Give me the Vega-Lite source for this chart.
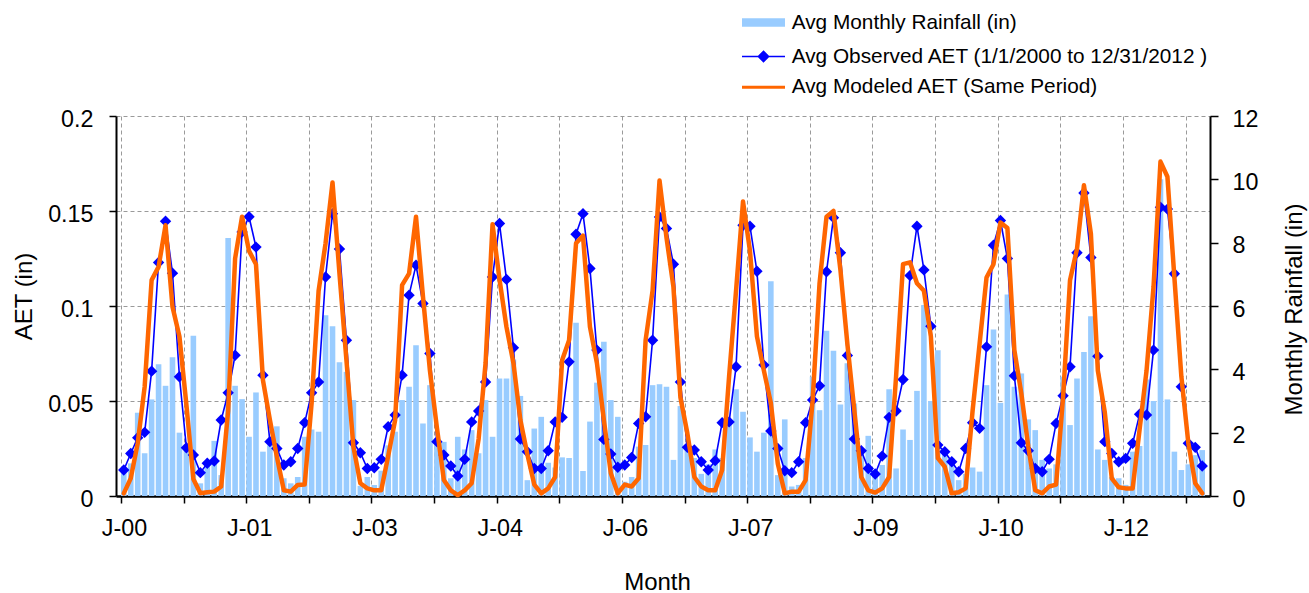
{
  "$schema": "https://vega.github.io/schema/vega-lite/v6.json",
  "width": 1094,
  "height": 380,
  "autosize": {"type": "none"},
  "padding": {"left": 116, "top": 116, "right": 99, "bottom": 97},
  "background": "white",
  "config": {
    "font": "Liberation Sans",
    "view": {"stroke": null},
    "axis": {
      "labelFont": "Liberation Sans",
      "labelFontSize": 23.3,
      "labelColor": "#000000",
      "titleFont": "Liberation Sans",
      "titleFontSize": 24,
      "titleFontWeight": "normal",
      "titleColor": "#000000",
      "domainColor": "#000000",
      "domainWidth": 2,
      "tickColor": "#000000",
      "tickWidth": 1.5,
      "tickSize": 7,
      "gridColor": "#9a9a9a",
      "gridDash": [4, 3],
      "gridWidth": 1
    }
  },
  "data": {
    "values": [
      {"month": 0, "rain": 0.85, "obs": 0.0137, "mod": 0.0014},
      {"month": 1, "rain": 1.03, "obs": 0.0224, "mod": 0.0093},
      {"month": 2, "rain": 2.63, "obs": 0.0307, "mod": 0.0277},
      {"month": 3, "rain": 1.35, "obs": 0.0335, "mod": 0.0575},
      {"month": 4, "rain": 3.05, "obs": 0.0657, "mod": 0.1136},
      {"month": 5, "rain": 4.16, "obs": 0.1229, "mod": 0.1206},
      {"month": 6, "rain": 3.48, "obs": 0.1446, "mod": 0.1425},
      {"month": 7, "rain": 4.38, "obs": 0.1173, "mod": 0.0996},
      {"month": 8, "rain": 2.0, "obs": 0.0628, "mod": 0.084},
      {"month": 9, "rain": 1.56, "obs": 0.0254, "mod": 0.048},
      {"month": 10, "rain": 5.06, "obs": 0.0216, "mod": 0.009},
      {"month": 11, "rain": 0.4, "obs": 0.0123, "mod": 0.0014},
      {"month": 12, "rain": 1.0, "obs": 0.0172, "mod": 0.002},
      {"month": 13, "rain": 1.74, "obs": 0.0184, "mod": 0.0023},
      {"month": 14, "rain": 0.66, "obs": 0.040, "mod": 0.005},
      {"month": 15, "rain": 8.15, "obs": 0.0543, "mod": 0.045},
      {"month": 16, "rain": 3.48, "obs": 0.0741, "mod": 0.125},
      {"month": 17, "rain": 3.06, "obs": 0.139, "mod": 0.147},
      {"month": 18, "rain": 1.87, "obs": 0.147, "mod": 0.129},
      {"month": 19, "rain": 3.27, "obs": 0.131, "mod": 0.122},
      {"month": 20, "rain": 1.40, "obs": 0.0636, "mod": 0.061},
      {"month": 21, "rain": 1.6, "obs": 0.0286, "mod": 0.040},
      {"month": 22, "rain": 2.2, "obs": 0.025, "mod": 0.0207},
      {"month": 23, "rain": 0.56, "obs": 0.0163, "mod": 0.003},
      {"month": 24, "rain": 0.4, "obs": 0.018, "mod": 0.0023},
      {"month": 25, "rain": 0.6, "obs": 0.025, "mod": 0.0058},
      {"month": 26, "rain": 1.87, "obs": 0.0386, "mod": 0.006},
      {"month": 27, "rain": 2.1, "obs": 0.0543, "mod": 0.049},
      {"month": 28, "rain": 2.03, "obs": 0.060, "mod": 0.108},
      {"month": 29, "rain": 5.71, "obs": 0.1153, "mod": 0.133},
      {"month": 30, "rain": 5.36, "obs": 0.1486, "mod": 0.165},
      {"month": 31, "rain": 4.22, "obs": 0.130, "mod": 0.117},
      {"month": 32, "rain": 3.92, "obs": 0.082, "mod": 0.0715},
      {"month": 33, "rain": 3.03, "obs": 0.028, "mod": 0.026},
      {"month": 34, "rain": 0.32, "obs": 0.0228, "mod": 0.0067},
      {"month": 35, "rain": 0.6, "obs": 0.0145, "mod": 0.004},
      {"month": 36, "rain": 0.35, "obs": 0.0149, "mod": 0.003},
      {"month": 37, "rain": 0.8, "obs": 0.0193, "mod": 0.003},
      {"month": 38, "rain": 1.6, "obs": 0.0365, "mod": 0.021},
      {"month": 39, "rain": 2.03, "obs": 0.0426, "mod": 0.040},
      {"month": 40, "rain": 3.03, "obs": 0.0636, "mod": 0.111},
      {"month": 41, "rain": 3.45, "obs": 0.1057, "mod": 0.117},
      {"month": 42, "rain": 4.76, "obs": 0.1215, "mod": 0.147},
      {"month": 43, "rain": 2.29, "obs": 0.1013, "mod": 0.105},
      {"month": 44, "rain": 3.5, "obs": 0.075, "mod": 0.066},
      {"month": 45, "rain": 1.66, "obs": 0.0286, "mod": 0.036},
      {"month": 46, "rain": 1.71, "obs": 0.0216, "mod": 0.0084},
      {"month": 47, "rain": 0.56, "obs": 0.0158, "mod": 0.003},
      {"month": 48, "rain": 1.87, "obs": 0.0105, "mod": 0.0005},
      {"month": 49, "rain": 1.47, "obs": 0.0193, "mod": 0.003},
      {"month": 50, "rain": 2.08, "obs": 0.039, "mod": 0.0067},
      {"month": 51, "rain": 1.35, "obs": 0.0447, "mod": 0.03},
      {"month": 52, "rain": 3.03, "obs": 0.060, "mod": 0.07},
      {"month": 53, "rain": 1.87, "obs": 0.1153, "mod": 0.143},
      {"month": 54, "rain": 3.71, "obs": 0.1434, "mod": 0.114},
      {"month": 55, "rain": 3.71, "obs": 0.114, "mod": 0.089},
      {"month": 56, "rain": 4.31, "obs": 0.078, "mod": 0.07},
      {"month": 57, "rain": 3.16, "obs": 0.030, "mod": 0.04},
      {"month": 58, "rain": 0.5, "obs": 0.0233, "mod": 0.022},
      {"month": 59, "rain": 2.13, "obs": 0.0145, "mod": 0.006},
      {"month": 60, "rain": 2.5, "obs": 0.0145, "mod": 0.0014},
      {"month": 61, "rain": 1.05, "obs": 0.0238, "mod": 0.004},
      {"month": 62, "rain": 0.9, "obs": 0.039, "mod": 0.01},
      {"month": 63, "rain": 1.22, "obs": 0.0414, "mod": 0.0715},
      {"month": 64, "rain": 1.2, "obs": 0.0706, "mod": 0.082},
      {"month": 65, "rain": 5.47, "obs": 0.1378, "mod": 0.133},
      {"month": 66, "rain": 0.79, "obs": 0.1486, "mod": 0.137},
      {"month": 67, "rain": 2.35, "obs": 0.1197, "mod": 0.089},
      {"month": 68, "rain": 3.58, "obs": 0.0768, "mod": 0.07},
      {"month": 69, "rain": 4.87, "obs": 0.0298, "mod": 0.04},
      {"month": 70, "rain": 3.03, "obs": 0.0221, "mod": 0.012},
      {"month": 71, "rain": 2.5, "obs": 0.0151, "mod": 0.0014},
      {"month": 72, "rain": 0.45, "obs": 0.0163, "mod": 0.006},
      {"month": 73, "rain": 0.6, "obs": 0.0203, "mod": 0.005},
      {"month": 74, "rain": 1.56, "obs": 0.0382, "mod": 0.0093},
      {"month": 75, "rain": 1.61, "obs": 0.0417, "mod": 0.082},
      {"month": 76, "rain": 3.5, "obs": 0.082, "mod": 0.108},
      {"month": 77, "rain": 3.53, "obs": 0.1469, "mod": 0.166},
      {"month": 78, "rain": 3.45, "obs": 0.1408, "mod": 0.136},
      {"month": 79, "rain": 1.14, "obs": 0.122, "mod": 0.11},
      {"month": 80, "rain": 2.84, "obs": 0.060, "mod": 0.052},
      {"month": 81, "rain": 1.5, "obs": 0.0256, "mod": 0.033},
      {"month": 82, "rain": 1.2, "obs": 0.0242, "mod": 0.01},
      {"month": 83, "rain": 0.7, "obs": 0.018, "mod": 0.005},
      {"month": 84, "rain": 1.0, "obs": 0.0137, "mod": 0.003},
      {"month": 85, "rain": 1.47, "obs": 0.0186, "mod": 0.003},
      {"month": 86, "rain": 1.2, "obs": 0.0386, "mod": 0.0137},
      {"month": 87, "rain": 2.35, "obs": 0.039, "mod": 0.063},
      {"month": 88, "rain": 3.37, "obs": 0.068, "mod": 0.108},
      {"month": 89, "rain": 2.66, "obs": 0.1425, "mod": 0.155},
      {"month": 90, "rain": 1.85, "obs": 0.142, "mod": 0.129},
      {"month": 91, "rain": 1.4, "obs": 0.1183, "mod": 0.084},
      {"month": 92, "rain": 2.0, "obs": 0.0689, "mod": 0.066},
      {"month": 93, "rain": 6.78, "obs": 0.0342, "mod": 0.049},
      {"month": 94, "rain": 0.66, "obs": 0.025, "mod": 0.017},
      {"month": 95, "rain": 2.42, "obs": 0.0133, "mod": 0.0014},
      {"month": 96, "rain": 0.3, "obs": 0.0123, "mod": 0.0023},
      {"month": 97, "rain": 0.35, "obs": 0.018, "mod": 0.0023},
      {"month": 98, "rain": 1.2, "obs": 0.0386, "mod": 0.0084},
      {"month": 99, "rain": 3.77, "obs": 0.0505, "mod": 0.05},
      {"month": 100, "rain": 2.71, "obs": 0.058, "mod": 0.112},
      {"month": 101, "rain": 5.22, "obs": 0.118, "mod": 0.147},
      {"month": 102, "rain": 4.59, "obs": 0.1465, "mod": 0.15},
      {"month": 103, "rain": 2.89, "obs": 0.128, "mod": 0.119},
      {"month": 104, "rain": 4.19, "obs": 0.074, "mod": 0.080},
      {"month": 105, "rain": 2.92, "obs": 0.030, "mod": 0.045},
      {"month": 106, "rain": 1.35, "obs": 0.0238, "mod": 0.01},
      {"month": 107, "rain": 1.9, "obs": 0.0145, "mod": 0.003},
      {"month": 108, "rain": 0.82, "obs": 0.0116, "mod": 0.0018},
      {"month": 109, "rain": 0.98, "obs": 0.021, "mod": 0.004},
      {"month": 110, "rain": 3.37, "obs": 0.0414, "mod": 0.01},
      {"month": 111, "rain": 0.87, "obs": 0.0447, "mod": 0.063},
      {"month": 112, "rain": 2.1, "obs": 0.0613, "mod": 0.122},
      {"month": 113, "rain": 1.77, "obs": 0.116, "mod": 0.123},
      {"month": 114, "rain": 3.32, "obs": 0.142, "mod": 0.112},
      {"month": 115, "rain": 6.03, "obs": 0.119, "mod": 0.108},
      {"month": 116, "rain": 3.0, "obs": 0.0894, "mod": 0.084},
      {"month": 117, "rain": 4.6, "obs": 0.0268, "mod": 0.02},
      {"month": 118, "rain": 1.4, "obs": 0.0233, "mod": 0.0154},
      {"month": 119, "rain": 1.19, "obs": 0.018, "mod": 0.0014},
      {"month": 120, "rain": 0.5, "obs": 0.0128, "mod": 0.002},
      {"month": 121, "rain": 0.7, "obs": 0.025, "mod": 0.004},
      {"month": 122, "rain": 0.9, "obs": 0.0386, "mod": 0.045},
      {"month": 123, "rain": 0.77, "obs": 0.0356, "mod": 0.080},
      {"month": 124, "rain": 3.5, "obs": 0.0785, "mod": 0.115},
      {"month": 125, "rain": 5.26, "obs": 0.132, "mod": 0.122},
      {"month": 126, "rain": 2.94, "obs": 0.145, "mod": 0.144},
      {"month": 127, "rain": 6.36, "obs": 0.125, "mod": 0.141},
      {"month": 128, "rain": 3.45, "obs": 0.0633, "mod": 0.0768},
      {"month": 129, "rain": 3.87, "obs": 0.028, "mod": 0.054},
      {"month": 130, "rain": 2.42, "obs": 0.0238, "mod": 0.026},
      {"month": 131, "rain": 2.08, "obs": 0.0145, "mod": 0.003},
      {"month": 132, "rain": 1.14, "obs": 0.0128, "mod": 0.0014},
      {"month": 133, "rain": 0.87, "obs": 0.0193, "mod": 0.005},
      {"month": 134, "rain": 1.0, "obs": 0.0382, "mod": 0.006},
      {"month": 135, "rain": 3.77, "obs": 0.0528, "mod": 0.052},
      {"month": 136, "rain": 2.24, "obs": 0.068, "mod": 0.1136},
      {"month": 137, "rain": 3.71, "obs": 0.128, "mod": 0.130},
      {"month": 138, "rain": 4.55, "obs": 0.1595, "mod": 0.1635},
      {"month": 139, "rain": 5.68, "obs": 0.1255, "mod": 0.138},
      {"month": 140, "rain": 1.47, "obs": 0.0736, "mod": 0.066},
      {"month": 141, "rain": 1.14, "obs": 0.0286, "mod": 0.044},
      {"month": 142, "rain": 0.6, "obs": 0.0224, "mod": 0.0093},
      {"month": 143, "rain": 0.56, "obs": 0.018, "mod": 0.0046},
      {"month": 144, "rain": 0.35, "obs": 0.0198, "mod": 0.004},
      {"month": 145, "rain": 1.4, "obs": 0.0277, "mod": 0.004},
      {"month": 146, "rain": 1.58, "obs": 0.043, "mod": 0.035},
      {"month": 147, "rain": 3.68, "obs": 0.0426, "mod": 0.066},
      {"month": 148, "rain": 3.0, "obs": 0.0768, "mod": 0.11},
      {"month": 149, "rain": 10.0, "obs": 0.152, "mod": 0.176},
      {"month": 150, "rain": 3.05, "obs": 0.151, "mod": 0.168},
      {"month": 151, "rain": 1.4, "obs": 0.117, "mod": 0.115},
      {"month": 152, "rain": 0.82, "obs": 0.0575, "mod": 0.063},
      {"month": 153, "rain": 1.0, "obs": 0.0277, "mod": 0.028},
      {"month": 154, "rain": 1.29, "obs": 0.0256, "mod": 0.0067},
      {"month": 155, "rain": 1.45, "obs": 0.0158, "mod": 0.0014}
    ]
  },
  "encoding": {
    "x": {
      "field": "month",
      "type": "quantitative",
      "scale": {"domain": [-0.4, 155.4], "nice": false, "zero": false},
      "axis": {
        "values": [-0.4, 8.6, 17.6, 26.6, 35.6, 44.6, 53.6, 62.6, 71.6, 80.6, 89.6, 98.6, 107.6, 116.6, 125.6, 134.6, 143.6, 152.6],
        "labelExpr": "round(datum.value) % 18 == 0 ? 'J-' + (floor(round(datum.value) / 12) < 10 ? '0' : '') + floor(round(datum.value) / 12) : ''",
        "labelFlush": false,
        "labelOverlap": false,
        "labelPadding": 14.6,
        "labelOffset": 3,
        "grid": true,
        "title": "Month",
        "titleX": 541,
        "titleY": 86,
        "titleBaseline": "middle",
        "titleAlign": "center",
        "domainWidth": 2.5
      }
    }
  },
  "layer": [
    {
      "mark": {"type": "bar", "width": 5.6},
      "encoding": {
        "y": {
          "field": "rain",
          "type": "quantitative",
          "scale": {"domain": [0, 12], "nice": false},
          "axis": {
            "orient": "right",
            "values": [0, 2, 4, 6, 8, 10, 12],
            "grid": false,
            "ticks": true,
            "tickSize": 8,
            "labelAlign": "left",
            "labelPadding": 14,
            "labelOffset": 3,
            "encode": {"labels": {"update": {"align": {"value": "left"}}}},
            "title": "Monthly Rainfall (in)",
            "titleAngle": -90,
            "titleX": 84,
            "titleY": 193,
            "titleBaseline": "middle",
            "titleAlign": "center"
          }
        },
        "fill": {
          "datum": "Avg Monthly Rainfall (in)",
          "type": "nominal",
          "scale": {"range": ["#99ccff"]},
          "legend": {
            "title": null,
            "orient": "none",
            "legendX": 626,
            "legendY": -115,
            "padding": 0,
            "symbolType": "M-1,-0.2H1V0.2H-1Z",
            "symbolSize": 1849,
            "symbolStrokeWidth": 0,
            "labelFont": "Liberation Sans",
            "labelFontSize": 20.8,
            "labelColor": "#000000",
            "labelOffset": 6.7,
            "labelLimit": 600
          }
        }
      }
    },
    {
      "encoding": {
        "y": {
          "type": "quantitative",
          "scale": {"domain": [0, 0.2], "nice": false},
          "axis": {
            "orient": "left",
            "values": [0, 0.05, 0.1, 0.15, 0.2],
            "format": "~g",
            "grid": true,
            "labelPadding": 16,
            "labelOffset": 3,
            "title": "AET (in)",
            "titleAngle": -90,
            "titleX": -92,
            "titleY": 180,
            "titleBaseline": "middle",
            "titleAlign": "center"
          }
        }
      },
      "layer": [
        {
          "mark": {"type": "line", "color": "#0000ff", "strokeWidth": 1.6},
          "encoding": {
            "y": {"field": "obs", "type": "quantitative", "title": "AET (in)"}
          }
        },
        {
          "mark": {"type": "point", "shape": "diamond", "filled": true, "size": 130, "opacity": 1},
          "encoding": {
            "y": {"field": "obs", "type": "quantitative", "title": "AET (in)"},
            "color": {
              "datum": "Avg Observed AET (1/1/2000 to 12/31/2012 )",
              "type": "nominal",
              "scale": {"range": ["#0000ff"]},
              "legend": {
                "title": null,
                "orient": "none",
                "legendX": 625,
                "legendY": -82,
                "padding": 0,
                "symbolType": "M-1,0H1M0,-0.24L0.24,0L0,0.24L-0.24,0Z",
                "symbolSize": 1849,
                "symbolStrokeWidth": 1.5,
                "symbolStrokeColor": "#0000ff",
                "symbolOpacity": 1,
                "labelFont": "Liberation Sans",
                "labelFontSize": 20.8,
                "labelColor": "#000000",
                "labelOffset": 5.7,
                "labelLimit": 600
              }
            }
          }
        },
        {
          "mark": {"type": "line", "strokeWidth": 4.5, "strokeJoin": "round", "strokeCap": "round"},
          "encoding": {
            "y": {"field": "mod", "type": "quantitative", "title": "AET (in)"},
            "stroke": {
              "datum": "Avg Modeled AET (Same Period)",
              "type": "nominal",
              "scale": {"range": ["#ff6600"]},
              "legend": {
                "title": null,
                "orient": "none",
                "legendX": 624.5,
                "legendY": -51.7,
                "padding": 0,
                "symbolType": "stroke",
                "symbolSize": 1849,
                "symbolStrokeWidth": 3,
                "labelFont": "Liberation Sans",
                "labelFontSize": 20.8,
                "labelColor": "#000000",
                "labelOffset": 5.2,
                "labelLimit": 600
              }
            }
          }
        }
      ]
    }
  ],
  "resolve": {"scale": {"y": "independent"}}
}
